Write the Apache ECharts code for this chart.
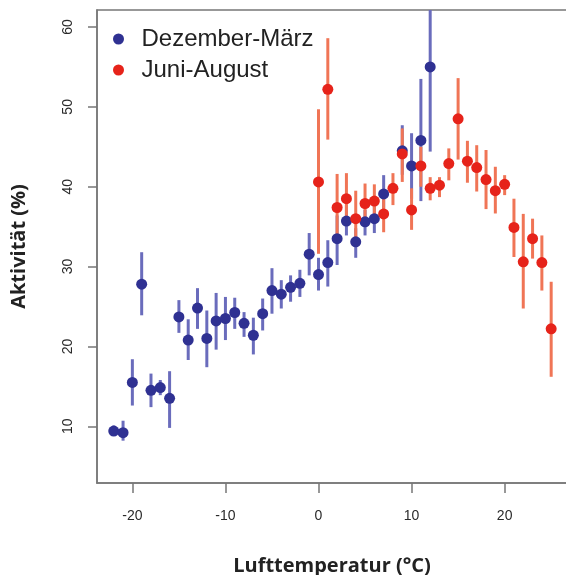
<!DOCTYPE html>
<html>
<head>
<meta charset="utf-8">
<script src="https://cdn.jsdelivr.net/npm/echarts@6/dist/echarts.min.js"></script>
<style>
  html, body { margin: 0; padding: 0; background: #fff; }
  #chart { width: 566px; height: 575px; }
</style>
</head>
<body>
<div id="chart"></div>
<script>
// Dezember-März (winter)
const winterTemp = [-22, -21, -20, -19, -18, -17, -16, -15, -14, -13, -12, -11, -10, -9, -8, -7, -6, -5, -4, -3, -2, -1, 0, 1, 2, 3, 4, 5, 6, 7, 9, 10, 11, 12]
const winterMean = [9.4, 9.2, 15.5, 27.8, 14.5, 14.85, 13.5, 23.7, 20.8, 24.8, 21.0, 23.2, 23.5, 24.25, 22.9, 21.4, 24.1, 27.0, 26.55, 27.4, 27.9, 31.55, 29.0, 30.5, 33.5, 35.7, 33.1, 35.6, 36.0, 39.1, 44.5, 42.6, 45.8, 55.0]
const winterLow = [8.8, 8.2, 12.6, 23.9, 12.4, 13.9, 9.8, 21.7, 18.3, 22.2, 17.4, 19.6, 20.8, 22.2, 21.2, 19.0, 22.0, 24.1, 24.75, 25.6, 26.2, 28.9, 27.0, 27.5, 30.2, 33.9, 31.1, 33.9, 34.2, 36.0, 41.5, 38.5, 38.2, 44.4]
const winterHigh = [10.1, 10.7, 18.4, 31.8, 16.6, 15.8, 16.9, 25.8, 23.4, 27.3, 24.5, 26.7, 26.2, 26.1, 24.3, 23.6, 26.0, 29.8, 28.3, 28.9, 29.6, 34.2, 31.1, 33.3, 36.4, 37.7, 34.8, 37.1, 37.7, 41.45, 47.7, 46.7, 53.5, 65.6]

// Juni-August (summer)
const summerTemp = [0, 1, 2, 3, 4, 5, 6, 7, 8, 9, 10, 11, 12, 13, 14, 15, 16, 17, 18, 19, 20, 21, 22, 23, 24, 25]
const summerMean = [40.6, 52.2, 37.4, 38.5, 36.0, 37.9, 38.2, 36.6, 39.8, 44.1, 37.1, 42.6, 39.8, 40.2, 42.9, 48.5, 43.2, 42.4, 40.9, 39.5, 40.3, 34.9, 30.6, 33.5, 30.5, 22.2]
const summerLow = [31.6, 45.9, 33.3, 35.3, 32.7, 35.2, 35.6, 34.3, 37.7, 40.6, 34.6, 40.0, 38.3, 38.7, 40.8, 43.4, 40.5, 39.4, 37.2, 36.65, 38.95, 31.2, 24.75, 31.0, 27.0, 16.2]
const summerHigh = [49.7, 58.6, 41.6, 41.7, 39.5, 40.4, 40.3, 38.7, 41.7, 47.3, 39.8, 45.0, 41.2, 41.2, 44.8, 53.6, 45.75, 45.2, 44.6, 42.5, 41.45, 38.5, 36.6, 36.0, 33.9, 28.1]

const xTicks = [-20, -10, 0, 10, 20]
const yTicks = [10, 20, 30, 40, 50, 60]

const BLUE = '#2f3192'
const BLUE_BAR = '#6a6cbc'
const RED = '#e6231a'
const RED_BAR = '#f07556'

const chart = echarts.init(document.getElementById('chart'))

function errorSeries(name, temps, lows, highs, color) {
    return {
        name: name,
        type: 'custom',
        clip: true,
        silent: true,
        data: temps.map((t, i) => [t, lows[i], highs[i]]),
        encode: { x: 0, y: [1, 2] },
        renderItem: function (params, api) {
            const p1 = api.coord([api.value(0), api.value(1)])
            const p2 = api.coord([api.value(0), api.value(2)])
            return {
                type: 'line',
                shape: { x1: p1[0], y1: p1[1], x2: p2[0], y2: p2[1] },
                style: { stroke: color, lineWidth: 3 }
            }
        }
    }
}

const option = {
    backgroundColor: '#fff',
    animation: false,
    textStyle: { fontFamily: 'Liberation Sans, Arial, sans-serif' },
    grid: {
        left: 97,
        right: -1,
        top: 10,
        bottom: 92,
        outerBoundsMode: 'none',
        show: true,
        borderColor: '#777',
        borderWidth: 1.5
    },
    legend: {
        orient: 'vertical',
        left: 108,
        top: 22,
        itemWidth: 36,
        itemHeight: 11,
        itemGap: 7,
        icon: 'circle',
        data: [
            { name: 'Dezember-März', itemStyle: { color: BLUE } },
            { name: 'Juni-August', itemStyle: { color: RED } }
        ],
        textStyle: {
            fontFamily: 'Liberation Sans, Arial, sans-serif',
            fontSize: 24,
            lineHeight: 24,
            color: '#222'
        }
    },
    xAxis: {
        type: 'value',
        min: -23.8,
        max: 26.7,
        name: 'Lufttemperatur (°C)',
        nameLocation: 'middle',
        nameGap: 73,
        nameTextStyle: {
            fontFamily: 'Open Sans',
            fontWeight: 'bold',
            fontSize: 20,
            color: '#222'
        },
        splitLine: { show: false },
        axisLine: { show: true, onZero: false, lineStyle: { color: '#777', width: 1.5 } },
        axisTick: { show: true, length: 10, customValues: xTicks, lineStyle: { color: '#777', width: 1.5 } },
        axisLabel: { customValues: xTicks, margin: 26, fontSize: 14, color: '#2a2a2a' }
    },
    yAxis: {
        type: 'value',
        min: 2.9,
        max: 62.13,
        name: 'Aktivität (%)',
        nameLocation: 'middle',
        nameGap: 68,
        nameTextStyle: {
            fontFamily: 'Open Sans',
            fontWeight: 'bold',
            fontSize: 20,
            color: '#222'
        },
        splitLine: { show: false },
        axisLine: { show: true, onZero: false, lineStyle: { color: '#777', width: 1.5 } },
        axisTick: { show: true, length: 9, customValues: yTicks, lineStyle: { color: '#777', width: 1.5 } },
        axisLabel: { customValues: yTicks, rotate: 90, margin: 22, fontSize: 14, color: '#2a2a2a' }
    },
    series: [
        errorSeries('Dezember-März-err', winterTemp, winterLow, winterHigh, BLUE_BAR),
        {
            name: 'Dezember-März',
            type: 'scatter',
            symbol: 'circle',
            symbolSize: 11,
            itemStyle: { color: BLUE, opacity: 1 },
            data: winterTemp.map((t, i) => [t, winterMean[i]])
        },
        errorSeries('Juni-August-err', summerTemp, summerLow, summerHigh, RED_BAR),
        {
            name: 'Juni-August',
            type: 'scatter',
            symbol: 'circle',
            symbolSize: 11,
            itemStyle: { color: RED, opacity: 1 },
            data: summerTemp.map((t, i) => [t, summerMean[i]])
        }
    ]
}

chart.setOption(option)
</script>
</body>
</html>
